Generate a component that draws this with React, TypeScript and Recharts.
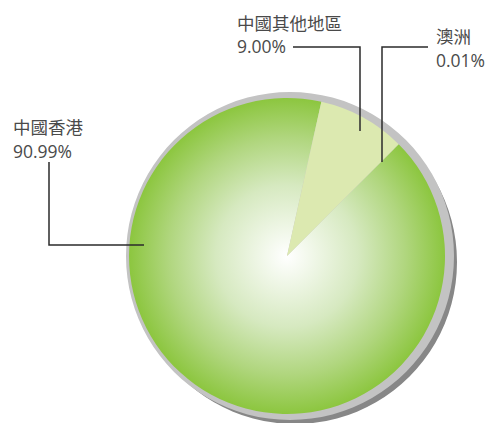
import React from "react";
import { PieChart, Pie, Cell } from "recharts";

// share of visitors by origin
const regions = ["中國香港", "中國其他地區", "澳洲"];
const shares = [90.99, 9.0, 0.01];
const shareLabels = ["90.99%", "9.00%", "0.01%"];

const chartData = regions.map((name, i) => ({ name, value: shares[i], text: shareLabels[i] }));

// label placement per slice: text origin and elbow line (page coords)
const labelLayout: Record<string, { tx: number; ty: number; line: [number, number][] }> = {
  中國香港: { tx: 13, ty: 134, line: [[49, 162], [49, 245], [144, 245]] },
  中國其他地區: { tx: 237, ty: 29.5, line: [[293, 47], [360, 47], [360, 131]] },
  澳洲: { tx: 436, ty: 43, line: [[382, 162], [382, 47], [428, 47]] },
};

const CX = 287;
const CY = 256;
const R = 158;

const renderLabel = (props: any) => {
  const lay = labelLayout[props.name];
  if (!lay) return null;
  const pts = lay.line.map((p) => p.join(",")).join(" ");
  return (
    <g>
      <polyline points={pts} fill="none" stroke="#2b2b2b" strokeWidth={1.5} />
      <text x={lay.tx} y={lay.ty} fill="#4a4a4a" fontSize={17.5}>
        {props.name}
      </text>
      <text x={lay.tx} y={lay.ty + 23.5} fill="#4a4a4a" fontSize={17.5}>
        {props.payload.text}
      </text>
    </g>
  );
};

export default function App() {
  return (
    <div style={{ position: "absolute", left: 0, top: 0, width: 489, height: 423, background: "#fff" }}>
      <PieChart
        width={489}
        height={423}
        margin={{ top: 0, right: 0, bottom: 0, left: 0 }}
        style={{ fontFamily: "'Open Sans', 'Noto Sans CJK TC', sans-serif" }}
      >
        <defs>
          <radialGradient id="greenGlow" gradientUnits="userSpaceOnUse" cx={CX} cy={CY} r={R}>
            <stop offset="0%" stopColor="#ffffff" />
            <stop offset="45%" stopColor="#d6e9c0" />
            <stop offset="75%" stopColor="#b0d67e" />
            <stop offset="100%" stopColor="#8cc63f" />
          </radialGradient>
        </defs>
        {/* drop shadow rims */}
        <Pie
          data={[{ value: 1 }]}
          dataKey="value"
          cx={295}
          cy={262}
          outerRadius={162}
          fill="#878787"
          stroke="none"
          isAnimationActive={false}
        />
        <Pie
          data={[{ value: 1 }]}
          dataKey="value"
          cx={290}
          cy={256}
          outerRadius={164}
          fill="#c3c3c3"
          stroke="none"
          isAnimationActive={false}
        />
        <Pie
          data={chartData}
          dataKey="value"
          nameKey="name"
          cx={CX}
          cy={CY}
          outerRadius={R}
          startAngle={45}
          endAngle={-315}
          stroke="none"
          label={renderLabel}
          labelLine={false}
          isAnimationActive={false}
        >
          <Cell fill="url(#greenGlow)" />
          <Cell fill="#dce9b0" />
          <Cell fill="url(#greenGlow)" />
        </Pie>
      </PieChart>
    </div>
  );
}
